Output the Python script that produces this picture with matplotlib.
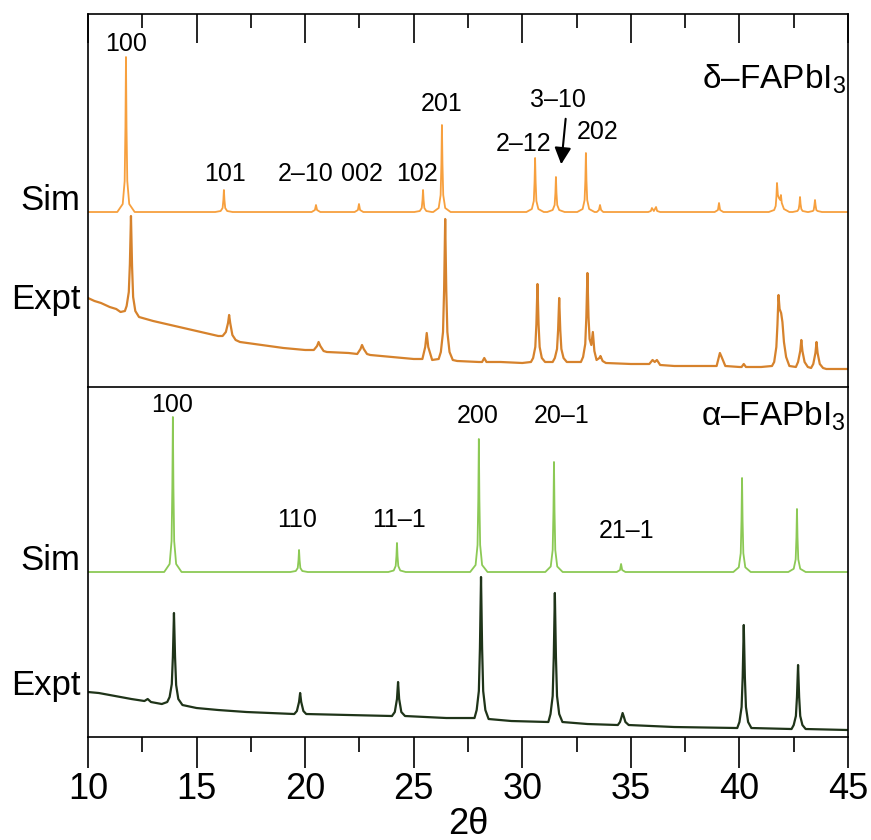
import matplotlib
matplotlib.use('Agg')
import matplotlib.pyplot as plt
from matplotlib.ticker import MultipleLocator
import matplotlib.transforms as mtransforms

plt.rcParams['font.family'] = ['Liberation Sans', 'DejaVu Sans']
plt.rcParams['mathtext.fontset'] = 'custom'
plt.rcParams['mathtext.rm'] = 'Liberation Sans'

# ---- data (2theta, intensity incl. stacking offset) ----
delta_sim = [
    (10, 175),
    (11.35, 175), (11.60, 183), (11.69, 206), (11.725, 260), (11.75, 330),
    (11.775, 260), (11.81, 206), (11.90, 183), (12.15, 175),
    (15.86, 175), (16.11, 176), (16.20, 179), (16.235, 187), (16.26, 197),
    (16.285, 187), (16.32, 179), (16.41, 176), (16.66, 175),
    (20.30, 175), (20.45, 177), (20.50, 182), (20.55, 177), (20.70, 175),
    (22.28, 175), (22.43, 177), (22.48, 183), (22.53, 177), (22.68, 175),
    (25.03, 175), (25.28, 176), (25.37, 179), (25.405, 187), (25.43, 197),
    (25.455, 187), (25.49, 179), (25.58, 176), (25.83, 175),
    (25.90, 175), (26.15, 179), (26.24, 192), (26.275, 223), (26.30, 262),
    (26.325, 223), (26.36, 192), (26.45, 179), (26.70, 175),
    (30.19, 175), (30.44, 178), (30.53, 186), (30.565, 205), (30.59, 229),
    (30.615, 205), (30.65, 186), (30.74, 178), (30.99, 175),
    (31.15, 175), (31.40, 177), (31.49, 182), (31.525, 194), (31.55, 210),
    (31.575, 194), (31.61, 182), (31.70, 177), (31.95, 175),
    (32.53, 175), (32.78, 178), (32.87, 187), (32.905, 207), (32.93, 234),
    (32.955, 207), (32.99, 187), (33.08, 178), (33.33, 175),
    (33.43, 175), (33.53, 177), (33.58, 182), (33.63, 177), (33.73, 175),
    (35.80, 175), (35.92, 176), (35.97, 179), (36.06, 176), (36.16, 180),
    (36.21, 176), (36.35, 175),
    (38.86, 175), (39.01, 177), (39.06, 184), (39.11, 177), (39.26, 175),
    (41.35, 175), (41.60, 177), (41.67, 181), (41.705, 191), (41.73, 204),
    (41.77, 192), (41.82, 189), (41.88, 187), (41.91, 192), (41.95, 184),
    (42.05, 178), (42.30, 175),
    (42.45, 175), (42.67, 176), (42.73, 178), (42.765, 183), (42.79, 190),
    (42.815, 183), (42.85, 178), (42.91, 176), (43.13, 175),
    (43.18, 175), (43.38, 176), (43.42, 177), (43.455, 182), (43.48, 187),
    (43.505, 182), (43.54, 177), (43.60, 176), (43.80, 175),
    (45, 175),
]

delta_expt = [
    (10, 89), (10.3, 86), (10.6, 84), (11.0, 80), (11.3, 78), (11.5, 75),
    (11.7, 76), (11.78, 81), (11.88, 95), (11.93, 123), (11.98, 171),
    (12.03, 121), (12.08, 90), (12.18, 76), (12.35, 70), (13.0, 66),
    (14.0, 61), (15.0, 56), (16.0, 51), (16.2, 51), (16.35, 55), (16.45, 64),
    (16.5, 72), (16.55, 64), (16.65, 52), (16.8, 47), (17.0, 45), (18.0, 42),
    (19.0, 39), (20.0, 37), (20.4, 37), (20.55, 41), (20.62, 45), (20.7, 41),
    (20.85, 36), (21.0, 35), (22.0, 34), (22.4, 33), (22.55, 38), (22.62, 42),
    (22.7, 38), (22.85, 33), (23.0, 32), (24.0, 30), (25.0, 28), (25.4, 28),
    (25.53, 40), (25.6, 54), (25.67, 40), (25.85, 27), (26.15, 28),
    (26.25, 35), (26.35, 55), (26.40, 97), (26.45, 168), (26.50, 97),
    (26.55, 55), (26.65, 35), (26.8, 27), (27.0, 26), (28.0, 25), (28.15, 25),
    (28.25, 29), (28.35, 25), (29.0, 25), (30.0, 24),
    (30.4, 25), (30.5, 29), (30.6, 40), (30.65, 63), (30.7, 103), (30.75, 63),
    (30.8, 40), (30.9, 29), (31.05, 25),
    (31.4, 25), (31.5, 29), (31.6, 38), (31.65, 57), (31.7, 89), (31.75, 57),
    (31.8, 38), (31.9, 29), (32.05, 25),
    (32.7, 25), (32.8, 30), (32.9, 43), (32.95, 70), (33.0, 114), (33.05, 70),
    (33.1, 48), (33.18, 42), (33.25, 55), (33.32, 36), (33.42, 27),
    (33.55, 29), (33.6, 31), (33.7, 26), (33.85, 24),
    (35.0, 23), (35.85, 23), (36.0, 27), (36.1, 25), (36.2, 27), (36.35, 22),
    (37.0, 21), (38.0, 21), (38.95, 21), (39.1, 34), (39.18, 30), (39.35, 21),
    (40.0, 20), (40.1, 20), (40.2, 23), (40.3, 20), (41.0, 20),
    (41.5, 21), (41.6, 25), (41.7, 40), (41.75, 62), (41.8, 92), (41.85, 78),
    (41.92, 74), (41.98, 65), (42.05, 45), (42.15, 30), (42.3, 21),
    (42.6, 20), (42.7, 25), (42.8, 36), (42.85, 47), (42.9, 36), (43.0, 25),
    (43.15, 20), (43.3, 19), (43.4, 23), (43.5, 34), (43.55, 45), (43.6, 34),
    (43.7, 23), (43.85, 19), (44.0, 18), (45.0, 18),
]

alpha_sim = [
    (10, 165),
    (13.51, 165), (13.76, 173), (13.85, 196), (13.885, 250), (13.91, 320),
    (13.935, 250), (13.97, 196), (14.06, 173), (14.31, 165),
    (19.32, 165), (19.57, 166), (19.66, 169), (19.695, 177), (19.72, 187),
    (19.745, 177), (19.78, 169), (19.87, 166), (20.12, 165),
    (23.83, 165), (24.08, 166.5), (24.17, 171), (24.205, 181), (24.23, 194),
    (24.255, 181), (24.29, 171), (24.38, 166.5), (24.63, 165),
    (27.60, 165), (27.85, 172), (27.94, 192), (27.975, 238), (28.00, 298),
    (28.025, 238), (28.06, 192), (28.15, 172), (28.40, 165),
    (31.06, 165), (31.31, 170.5), (31.40, 187), (31.435, 225.5), (31.46, 275),
    (31.485, 225.5), (31.52, 187), (31.61, 170.5), (31.86, 165),
    (34.35, 165), (34.50, 167), (34.55, 173), (34.60, 167), (34.75, 165),
    (39.72, 165), (39.97, 169.7), (40.06, 183.8), (40.095, 216.7), (40.12, 259),
    (40.145, 216.7), (40.18, 183.8), (40.27, 169.7), (40.52, 165),
    (42.25, 165), (42.50, 168.2), (42.59, 177.6), (42.625, 199.7), (42.65, 228),
    (42.675, 199.7), (42.71, 177.6), (42.80, 168.2), (43.05, 165),
    (45, 165),
]

alpha_expt = [
    (10, 45), (10.5, 44), (11, 42), (11.5, 40), (12, 38), (12.6, 36),
    (12.75, 38), (12.9, 35), (13.4, 33),
    (13.65, 35), (13.76, 40), (13.86, 53), (13.91, 80), (13.96, 124),
    (14.01, 80), (14.06, 52), (14.16, 38), (14.35, 32),
    (15, 29), (16, 27), (17.3, 25),
    (19.5, 23), (19.62, 26), (19.72, 35), (19.77, 44), (19.82, 35),
    (19.92, 26), (20.05, 23), (22, 22),
    (24.0, 21), (24.13, 25), (24.23, 38), (24.28, 55), (24.33, 38),
    (24.43, 25), (24.6, 21), (26.5, 19),
    (27.8, 19), (27.9, 27), (28.0, 46), (28.05, 89), (28.1, 160), (28.15, 89),
    (28.2, 46), (28.3, 27), (28.45, 18), (29.5, 16),
    (31.2, 15), (31.3, 23), (31.4, 41), (31.45, 80), (31.5, 144), (31.55, 80),
    (31.6, 41), (31.7, 23), (31.85, 15), (33, 13),
    (34.4, 12), (34.5, 15), (34.57, 20), (34.62, 24), (34.68, 20), (34.75, 15),
    (34.9, 12), (37, 10),
    (39.9, 9), (40.0, 15), (40.1, 30), (40.15, 60), (40.2, 112), (40.25, 60),
    (40.3, 30), (40.4, 15), (40.55, 9),
    (42.4, 8), (42.5, 12), (42.6, 21), (42.65, 40), (42.7, 72), (42.75, 40),
    (42.8, 21), (42.9, 12), (43.05, 8), (45, 7),
]

delta_hkl = ['100', '101', '2\u201310', '002', '102', '201', '2\u201312', '3\u201310', '202']
delta_hkl_x = [11.75, 16.31, 20.04, 22.62, 25.15, 26.3, 30.08, 31.65, 33.49]
delta_hkl_y = [343, 213, 213, 213, 213, 283, 243, 287, 255]

alpha_hkl = ['100', '110', '11\u20131', '200', '20\u20131', '21\u20131']
alpha_hkl_x = [13.87, 19.63, 24.32, 27.96, 31.83, 34.78]
alpha_hkl_y = [332, 217, 217, 321, 321, 206]

c_dsim = '#f7a03e'
c_dexp = '#d6822c'
c_asim = '#8cc955'
c_aexp = '#1f3419'

fig = plt.figure(figsize=(8.71, 8.40), dpi=100)
ax1 = fig.add_axes([0.101, 0.5393, 0.8726, 0.4440])
ax2 = fig.add_axes([0.101, 0.1226, 0.8726, 0.4167])

for ax, sim, expt, csim, cexp in [(ax1, delta_sim, delta_expt, c_dsim, c_dexp),
                                  (ax2, alpha_sim, alpha_expt, c_asim, c_aexp)]:
    ax.plot([p[0] for p in sim], [p[1] for p in sim], color=csim, lw=1.3)
    ax.plot([p[0] for p in expt], [p[1] for p in expt], color=cexp, lw=1.6)
    ax.set_xlim(10, 45)
    ax.set_yticks([])
    ax.xaxis.set_major_locator(MultipleLocator(5))
    ax.xaxis.set_minor_locator(MultipleLocator(2.5))
    for s in ax.spines.values():
        s.set_linewidth(1.2)

ax1.set_ylim(0, 373)
ax2.set_ylim(0, 350)

ax1.spines['bottom'].set_visible(False)
ax1.tick_params(axis='x', which='both', bottom=False, top=True, direction='in',
                labelbottom=False, labeltop=False, width=1.2)
ax1.tick_params(axis='x', which='major', length=21)
ax1.tick_params(axis='x', which='minor', length=10)

ax2.tick_params(axis='x', which='both', bottom=True, top=False, direction='out',
                width=1.2, labelsize=26, pad=3)
ax2.tick_params(axis='x', which='major', length=22)
ax2.tick_params(axis='x', which='minor', length=11)
ax2.set_xlabel('2\u03b8', fontsize=26, labelpad=0)

# row labels on the left
for ax, lab, yy in [(ax1, 'Sim', 187), (ax1, 'Expt', 87), (ax2, 'Sim', 177), (ax2, 'Expt', 52)]:
    tr = mtransforms.blended_transform_factory(ax.transAxes, ax.transData)
    ax.text(-0.01, yy, lab, transform=tr, ha='right', va='center', fontsize=25)

for t, x, y in zip(delta_hkl, delta_hkl_x, delta_hkl_y):
    ax1.text(x, y, t, ha='center', va='center', fontsize=18)
for t, x, y in zip(alpha_hkl, alpha_hkl_x, alpha_hkl_y):
    ax2.text(x, y, t, ha='center', va='center', fontsize=18)

ax1.annotate('', xy=(31.78, 220), xytext=(32.01, 271),
             arrowprops=dict(arrowstyle='-|>', color='black', lw=1.5, mutation_scale=25))

ax1.text(0.997, 0.80, '\u03b4\u2013FAPbI$_\\mathregular{3}$', transform=ax1.transAxes,
         ha='right', va='baseline', fontsize=24)
ax2.text(0.997, 0.89, '\u03b1\u2013FAPbI$_\\mathregular{3}$', transform=ax2.transAxes,
         ha='right', va='baseline', fontsize=24)

fig.savefig('out.png', dpi=100)
